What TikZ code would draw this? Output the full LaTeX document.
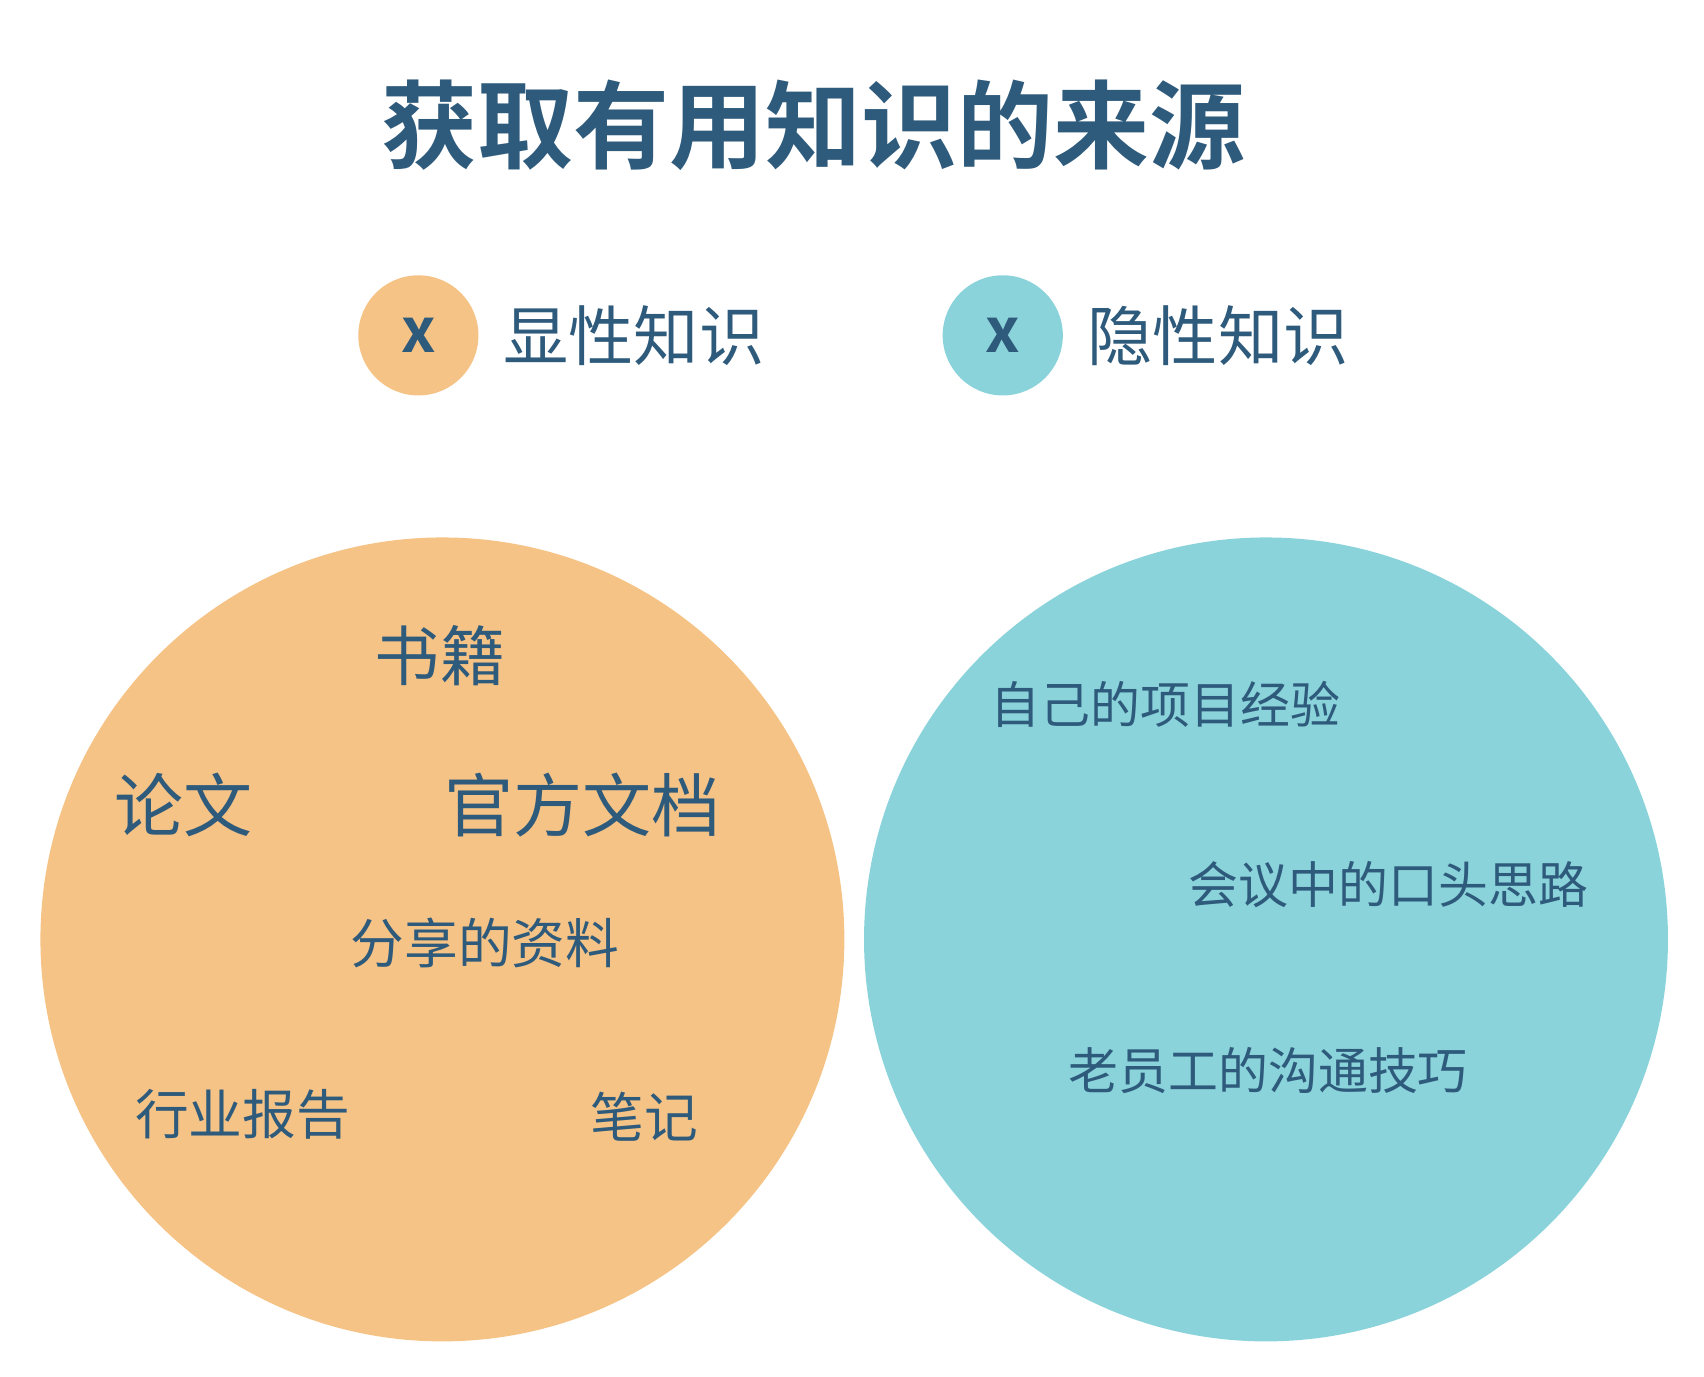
\documentclass[tikz,border=0pt]{standalone}
\usepackage{fontspec}
\setmainfont{Noto Sans CJK SC}
\newfontfamily\cjkbold{Noto Sans CJK SC Bold}
\definecolor{ink}{HTML}{2E5A7B}
\definecolor{orangefill}{HTML}{F6C386}
\definecolor{tealfill}{HTML}{8AD3DA}
\tikzset{
  word/.style = {text=ink, inner sep=0pt},
  dot/.style = {circle, minimum size=1.1cm, inner sep=0pt, text=ink, font=\cjkbold\fontsize{16}{16}\selectfont}
}
\begin{document}
\begin{tikzpicture}[y=-1cm]
\path[use as bounding box] (0,0) rectangle (15.6,12.6);
% title
\node[word, font=\cjkbold\fontsize{25}{25}\selectfont] (title) at (7.45,1.15) {获取有用知识的来源};
% legend
\node[dot, fill=orangefill] (xa) at (3.83,3.07) {x};
\node[word, anchor=west, font=\fontsize{17}{17}\selectfont] (la) at (4.6,3.07) {显性知识};
\node[dot, fill=tealfill] (xb) at (9.18,3.07) {x};
\node[word, anchor=west, font=\fontsize{17}{17}\selectfont] (lb) at (9.95,3.07) {隐性知识};
% circles
\fill[orangefill] (4.05,8.6) circle (3.68);
\fill[tealfill] (11.59,8.6) circle (3.68);
% explicit
\node[word, font=\fontsize{17}{17}\selectfont] (shu) at (4.03,6.0) {书籍};
\node[word, font=\fontsize{18}{18}\selectfont] (lun) at (1.68,7.37) {论文};
\node[word, font=\fontsize{18}{18}\selectfont] (guan) at (5.33,7.37) {官方文档};
\node[word, font=\fontsize{14}{14}\selectfont] (fen) at (4.44,8.63) {分享的资料};
\node[word, font=\fontsize{14}{14}\selectfont] (hang) at (2.22,10.2) {行业报告};
\node[word, font=\fontsize{14}{14}\selectfont] (bi) at (5.9,10.22) {笔记};
% tacit
\node[word, font=\fontsize{13}{13}\selectfont] (zi) at (10.67,6.45) {自己的项目经验};
\node[word, font=\fontsize{13}{13}\selectfont] (hui) at (12.71,8.1) {会议中的口头思路};
\node[word, font=\fontsize{13}{13}\selectfont] (lao) at (11.61,9.8) {老员工的沟通技巧};
\end{tikzpicture}
\end{document}
